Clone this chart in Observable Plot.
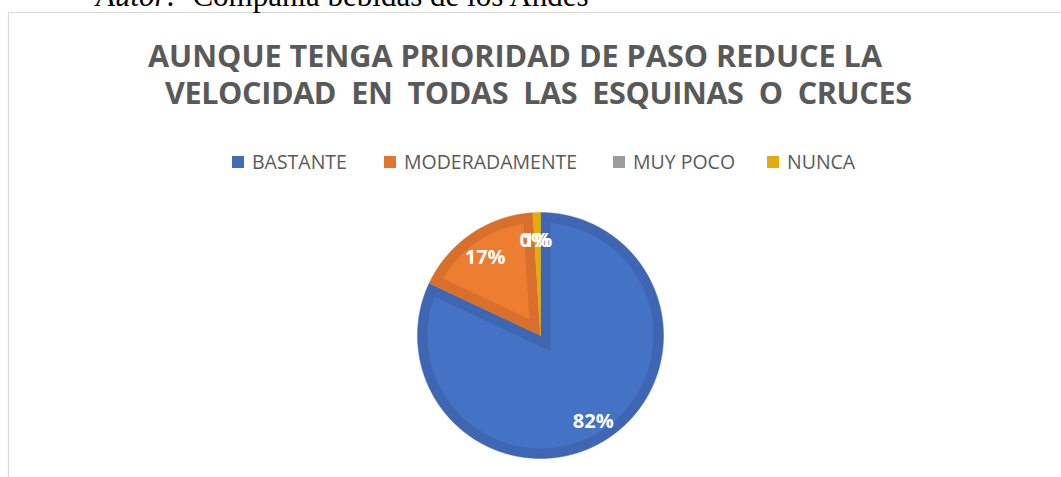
<!DOCTYPE html>
<html>
<head>
<meta charset="utf-8">
<script src="https://cdn.jsdelivr.net/npm/d3@7"></script>
<script src="https://cdn.jsdelivr.net/npm/@observablehq/plot@0.6"></script>
<style>
  html, body { margin: 0; padding: 0; background: #fff; }
  #wrap { position: relative; width: 1061px; height: 477px; overflow: hidden; background: #fff; }
  #wrap > svg { position: absolute; left: 0; top: 0; }
</style>
</head>
<body>
<div id="wrap"></div>
<script>
// ---- data ----
const categories = ["BASTANTE", "MODERADAMENTE", "MUY POCO", "NUNCA"];
const values = [82, 17, 0, 1];
const labels = ["82%", "17%", "0%", "1%"];
const fills = ["#4472C4", "#ED7D31", "#A5A5A5", "#FFC000"];
const bands = ["#3E66B3", "#D8702B", "#939393", "#E2AC0C"];
const titleLines = ["AUNQUE TENGA PRIORIDAD DE PASO REDUCE LA", "VELOCIDAD  EN  TODAS  LAS  ESQUINAS  O  CRUCES"];
const authorLabel = "Autor:";
const authorText = "  Compañía bebidas de los Andes";

// ---- layout ----
const W = 1061, H = 477;
const cx = 540, cy = 335, R = 123;
const inset = 10 / R;   // darker rim width, in radius units

const pie = d3.pie().value(d => d).sort(null)(values);

function arcPts(r, a0, a1) {
  const n = Math.max(2, Math.ceil(Math.abs(a1 - a0) / 0.004));
  const pts = [];
  for (let i = 0; i <= n; i++) {
    const a = a0 + (a1 - a0) * i / n;
    pts.push([r * Math.sin(a), r * Math.cos(a)]);
  }
  return pts;
}

const marks = [];
pie.forEach((p, i) => {
  const a0 = p.startAngle, a1 = p.endAngle;
  if (a1 - a0 <= 0) return;
  const outer = [[0, 0], ...arcPts(1, a0, a1), [0, 0]];
  marks.push(Plot.line(outer, {x: d => d[0], y: d => d[1], fill: bands[i], stroke: bands[i], strokeWidth: 0.5, curve: "linear"}));
  const th = a1 - a0;
  const h = inset / Math.sin(th / 2);
  const ri = 1 - inset;
  const da = Math.asin(inset / ri);
  if (h < ri - inset && a1 - da > a0 + da) {
    const am = (a0 + a1) / 2;
    const apex = [h * Math.sin(am), h * Math.cos(am)];
    const inner = [apex, ...arcPts(ri, a0 + da, a1 - da), apex];
    marks.push(Plot.line(inner, {x: d => d[0], y: d => d[1], fill: fills[i], stroke: "none", curve: "linear"}));
  }
});

const labelData = pie.map((p, i) => ({
  label: labels[i],
  x: 0.8 * Math.sin((p.startAngle + p.endAngle) / 2),
  y: 0.8 * Math.cos((p.startAngle + p.endAngle) / 2)
}));
marks.push(Plot.text(labelData, {x: "x", y: "y", text: "label", dy: 3, fill: "white", fontSize: 20, fontWeight: "bold", fontFamily: "Open Sans"}));

const chart = Plot.plot({
  width: W, height: H,
  marginLeft: cx - R, marginRight: W - (cx + R),
  marginTop: cy - R, marginBottom: H - (cy + R),
  x: {domain: [-1, 1], axis: null},
  y: {domain: [-1, 1], axis: null},
  style: {background: "transparent", overflow: "visible"},
  marks
});
document.getElementById("wrap").appendChild(chart);

// ---- overlay: border, author line, title, legend ----
const svg = d3.select("#wrap").append("svg").attr("width", W).attr("height", H);
svg.append("path").attr("d", `M8.5,${H} V12.5 H${W}`).attr("fill", "none").attr("stroke", "#d9d9d9").attr("stroke-width", 1.2);

const auth = svg.append("text").attr("x", 96).attr("y", 6)
  .attr("font-family", "Liberation Serif").attr("font-size", 31).attr("fill", "#000")
  .style("white-space", "pre");
auth.append("tspan").attr("font-style", "italic").text(authorLabel);
auth.append("tspan").text(authorText);

const titleX = [515, 538.5], titleY = [67, 104], titleW = [734, 747];
titleLines.forEach((t, i) => {
  svg.append("text").attr("x", titleX[i]).attr("y", titleY[i]).attr("text-anchor", "middle")
    .attr("font-family", "Open Sans").attr("font-weight", "bold").attr("font-size", 30.6)
    .attr("textLength", titleW[i]).attr("lengthAdjust", "spacing")
    .attr("fill", "#595959").style("white-space", "pre").text(t);
});

const legendX = [232, 384, 613, 767];
const ly = 169, sq = 12;
categories.forEach((c, i) => {
  const lx = legendX[i];
  svg.append("rect").attr("x", lx).attr("y", ly - 13).attr("width", sq).attr("height", sq)
    .attr("fill", i === 3 ? bands[i] : d3.color(fills[i]).darker(0.15));
  svg.append("text").attr("x", lx + sq + 8).attr("y", ly)
    .attr("font-family", "Open Sans").attr("font-size", 19.5).attr("fill", "#595959").text(c);
});
</script>
</body>
</html>
